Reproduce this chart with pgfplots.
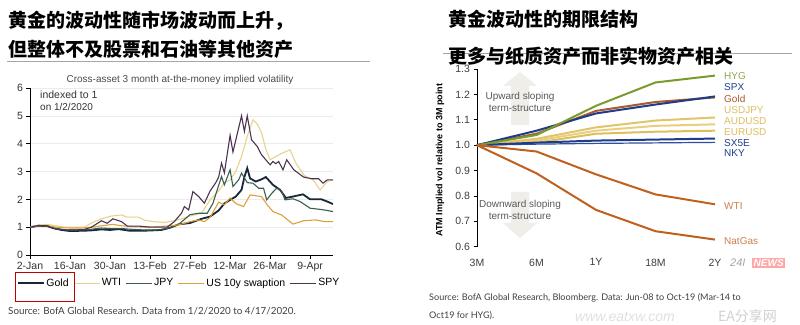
\documentclass[border=0pt]{standalone}
\usepackage{fontspec}
\setmainfont{Liberation Sans}
\newfontfamily\cjk{Noto Sans CJK SC}
\newfontfamily\srcfont{Lato}
\usepackage{pgfplots}
\pgfplotsset{compat=1.18}
\definecolor{cGold}{HTML}{17263A}
\definecolor{cWTI}{HTML}{E6D48A}
\definecolor{cJPY}{HTML}{3D5F4F}
\definecolor{cSwap}{HTML}{DBA33A}
\definecolor{cSPY}{HTML}{4D3350}
\definecolor{rHYG}{HTML}{7A9A2E}
\definecolor{rNavy}{HTML}{1F3C88}
\definecolor{rNKY}{HTML}{2E4FA0}
\definecolor{rGold}{HTML}{A65A2E}
\definecolor{rY1}{HTML}{E2C56A}
\definecolor{rY2}{HTML}{E8CF7E}
\definecolor{rY3}{HTML}{DDBF5E}
\definecolor{rOil}{HTML}{C0601E}
\definecolor{rArrow}{HTML}{EFEEE8}
\begin{document}
\begin{tikzpicture}
\fill[white] (0pt,0pt) rectangle (800pt,324pt);
% ---------- titles ----------
\node[anchor=west,inner sep=0pt] at (8pt,303pt) {\cjk\bfseries\fontsize{19}{21}\selectfont 黄金的波动性随市场波动而上升，};
\node[anchor=west,inner sep=0pt] at (8pt,274.5pt) {\cjk\bfseries\fontsize{19}{21}\selectfont 但整体不及股票和石油等其他资产};
\draw[gray!70,line width=0.8pt] (7pt,263pt) -- (370pt,263pt);
\node[anchor=west,inner sep=0pt] at (448pt,305pt) {\cjk\bfseries\fontsize{19}{21}\selectfont 黄金波动性的期限结构};
\draw[gray!70,line width=0.8pt] (443pt,270.7pt) -- (792pt,270.7pt);
\node[anchor=west,inner sep=0pt] at (448pt,268pt) {\cjk\bfseries\fontsize{19}{21}\selectfont 更多与纸质资产而非实物资产相关};
% ---------- left chart ----------
\node[text=black!70,inner sep=0pt] at (180pt,244pt) {\fontsize{10}{12}\selectfont Cross-asset 3 month at-the-money implied volatility};
\node[anchor=north west,align=left,inner sep=0pt,text=black!80] at (40pt,233pt) {\fontsize{10.5}{12.5}\selectfont indexed to 1\\on 1/2/2020};
\begin{axis}[
  at={(30pt,69pt)}, anchor=south west,
  scale only axis, width=303pt, height=167pt,
  xmin=0, xmax=106, ymin=0, ymax=6,
  axis lines*=left, axis line style={black, line width=0.6pt, -},
  xtick={0,14,28,42,56,70,84,98},
  xticklabels={2-Jan,16-Jan,30-Jan,13-Feb,27-Feb,12-Mar,26-Mar,9-Apr},
  ytick={0,1,2,3,4,5,6},
  tick align=outside, major tick length=3.5pt,
  tick style={black, line width=0.6pt},
  ymajorgrids, grid style={black!8, line width=0.4pt},
  tick label style={font=\fontsize{10.5}{12}\selectfont, text=black!80},
  /pgf/number format/assume math mode=true,
  legend columns=5,
  legend style={at={(-0.043,-0.168)}, anchor=west, draw=none, fill=none,
    font=\fontsize{10.5}{12}\selectfont, inner sep=0pt,
    nodes={inner sep=1.5pt},
    /tikz/every even column/.append style={column sep=3pt}},
  legend image code/.code={\draw[#1] (0pt,0pt) -- (26pt,0pt);},
]
\addplot[cGold, line width=1.8pt] coordinates {(0,1.0)(3,1.05)(6,1.04)(8,0.97)(11,0.9)(14,0.86)(18,0.87)(21,0.88)(25,0.92)(28,0.9)(31,0.93)(35,0.87)(39,0.87)(42,0.88)(46,0.9)(49,0.98)(52,1.1)(56,1.15)(60,1.3)(63,1.38)(66,1.6)(68,1.85)(70,1.98)(72,2.1)(74,2.34)(75,2.8)(76,3.12)(77,2.75)(79,2.64)(81,2.72)(82.5,2.8)(85,2.52)(87.5,2.34)(89.5,2.05)(92,2.1)(95.5,2.18)(98,2.0)(102,2.0)(104,1.92)(106,1.83)};
\addlegendentry{Gold}
\addplot[cWTI, line width=1.1pt] coordinates {(0,1.0)(3,1.08)(6,1.1)(9,1.05)(12,1.0)(16,1.0)(19,1.0)(21.5,1.15)(25,1.3)(28.5,1.4)(32,1.44)(34,1.36)(38,1.36)(40,1.25)(43,1.2)(47,1.17)(50,1.22)(53,1.3)(56,1.4)(60,1.5)(63,1.98)(66,2.3)(68,2.6)(70,2.7)(72,3.0)(74,3.54)(76,4.26)(78,4.86)(79.5,4.7)(81,4.4)(82.5,3.8)(84,3.42)(86,3.54)(88,3.65)(91,3.78)(93,3.3)(96,2.85)(99,2.7)(101.5,2.34)(104,2.64)(106,2.7)};
\addlegendentry{WTI}
\addplot[cJPY, line width=1.1pt] coordinates {(0,1.0)(3,1.04)(6,1.05)(9,0.95)(13,0.9)(17,0.9)(21,0.92)(25,0.97)(28,0.95)(32,0.95)(36,0.92)(40,0.9)(44,0.9)(48,0.95)(52,1.1)(56,1.45)(59,1.5)(62,1.5)(64,1.86)(66,2.5)(67,2.82)(68,2.52)(70,3.06)(71,2.46)(73,2.7)(74,2.94)(76,2.6)(78,2.58)(80,2.4)(81.7,2.4)(82.8,1.98)(84.6,2.22)(86.3,2.4)(88,2.3)(89.2,1.98)(92,2.02)(94.5,1.92)(98,1.68)(101.5,1.64)(104,1.6)(106,1.56)};
\addlegendentry{JPY}
\addplot[cSwap, line width=1.1pt] coordinates {(0,1.0)(3,1.06)(6,1.05)(9,1.0)(14,0.97)(18,0.97)(22,1.0)(25,1.05)(29,1.1)(32,1.05)(36,1.02)(40,1.0)(45,1.02)(49,1.05)(52,1.08)(56,1.2)(59,1.26)(61,1.2)(63,1.35)(66,1.9)(68,1.8)(70,2.05)(72,1.85)(74.7,1.74)(77,2.16)(81,2.1)(83,1.8)(85,1.56)(88,1.44)(92,1.11)(95.7,1.23)(100,1.26)(103,1.2)(106,1.2)};
\addlegendentry{US 10y swaption}
\addplot[cSPY, line width=1.1pt] coordinates {(0,1.0)(3,1.06)(6,1.05)(9,0.93)(13,0.9)(16,0.9)(19,0.92)(21.5,1.0)(25,1.23)(27,1.14)(29,1.3)(32,1.2)(34,1.04)(38,1.04)(42,1.0)(48,1.0)(50.5,1.2)(53,1.5)(54,1.74)(55.5,1.62)(57,2.28)(59,2.1)(61,1.86)(63,2.3)(65,2.6)(66,2.8)(67,3.3)(68,2.95)(70,4.3)(71,3.7)(74,5.0)(75,4.44)(76,5.0)(77.5,4.14)(79.5,3.9)(81,3.6)(82.5,3.42)(84,3.24)(85,3.36)(86,3.28)(87,3.36)(88.5,3.06)(89.8,3.42)(92.3,3.06)(95.7,2.8)(98.6,2.74)(101,2.74)(102.5,2.58)(104,2.7)(106,2.7)};
\addlegendentry{SPY}
\end{axis}
\draw[red!75!black, line width=0.8pt] (15pt,23pt) rectangle (74pt,52pt);
\node[anchor=base west,inner sep=0pt,text=black!75] at (8pt,9.5pt) {\srcfont\fontsize{9.8}{11}\selectfont Source: BofA Global Research. Data from 1/2/2020 to 4/17/2020.};
% ---------- right chart ----------
\fill[rArrow] (520pt,252pt) -- (537pt,238pt) -- (529pt,238pt) -- (529pt,199pt) -- (511pt,199pt) -- (511pt,238pt) -- (503pt,238pt) -- cycle;
\fill[rArrow] (520pt,86pt) -- (537pt,101pt) -- (529pt,101pt) -- (529pt,132pt) -- (511pt,132pt) -- (511pt,101pt) -- (503pt,101pt) -- cycle;
\node[text=black!65,align=center,inner sep=0pt] at (520pt,222.5pt) {\fontsize{10}{13}\selectfont Upward sloping\\term-structure};
\node[text=black!65,align=center,inner sep=0pt] at (520pt,114pt) {\fontsize{10}{13}\selectfont Downward sloping\\term-structure};
\node[rotate=90,inner sep=0pt] at (440pt,164pt) {\bfseries\fontsize{9}{11}\selectfont ATM Implied vol relative to 3M point};
\begin{axis}[
  at={(477pt,77.3pt)}, anchor=south west,
  scale only axis, width=238pt, height=177.7pt,
  xmin=0, xmax=4, ymin=0.6, ymax=1.3,
  axis y line*=left, axis x line*=bottom,
  x axis line style={draw=none},
  y axis line style={black, line width=0.8pt, -},
  xtick={0,1,2,3,4}, xticklabels={3M,6M,1Y,18M,2Y},
  x tick style={draw=none},
  ytick={0.6,0.7,0.8,0.9,1.0,1.1,1.2,1.3},
  yticklabel style={/pgf/number format/.cd, fixed, fixed zerofill, precision=1},
  xticklabel style={yshift=-5pt},
  y tick style={black, line width=0.8pt},
  tick align=outside, major tick length=3.5pt,
  tick label style={font=\fontsize{10.5}{12}\selectfont, text=black!75},
  /pgf/number format/assume math mode=true,
  clip=false,
]
\addplot[rY3, line width=2pt] coordinates {(0,1)(1,1.01)(2,1.045)(3,1.053)(4,1.057)};
\addplot[rY2, line width=2pt] coordinates {(0,1)(1,1.018)(2,1.057)(3,1.076)(4,1.082)};
\addplot[rY1, line width=2pt] coordinates {(0,1)(1,1.025)(2,1.07)(3,1.097)(4,1.109)};
\addplot[rNKY, line width=1.2pt] coordinates {(0,1)(1,1.004)(2,1.007)(3,1.009)(4,1.011)};
\addplot[rNavy, line width=2pt] coordinates {(0,1)(1,1.01)(2,1.018)(3,1.022)(4,1.026)};
\addplot[rGold, line width=2pt] coordinates {(0,1)(1,1.045)(2,1.135)(3,1.17)(4,1.188)};
\addplot[rNavy, line width=2pt] coordinates {(0,1)(1,1.057)(2,1.125)(3,1.16)(4,1.192)};
\addplot[rHYG, line width=2pt] coordinates {(0,1)(1,1.04)(2,1.155)(3,1.247)(4,1.274)};
\addplot[rOil, line width=2pt] coordinates {(0,1)(1,0.975)(2,0.885)(3,0.806)(4,0.767)};
\addplot[rOil, line width=2pt] coordinates {(0,1)(1,0.889)(2,0.745)(3,0.661)(4,0.628)};
\begin{scope}[every node/.style={anchor=west, xshift=8pt, inner sep=1pt, font=\fontsize{10}{12}\selectfont}]
\node[text=rHYG!85] at (axis cs:4,1.274) {HYG};
\node[text=rNavy] at (axis cs:4,1.228) {SPX};
\node[text=rGold] at (axis cs:4,1.184) {Gold};
\node[text=rY3] at (axis cs:4,1.139) {USDJPY};
\node[text=rY3] at (axis cs:4,1.096) {AUDUSD};
\node[text=rY3] at (axis cs:4,1.052) {EURUSD};
\node[text=rNavy] at (axis cs:4,1.008) {SX5E};
\node[text=rNavy] at (axis cs:4,0.967) {NKY};
\node[text=rOil!80] at (axis cs:4,0.762) {WTI};
\node[text=rOil!80] at (axis cs:4,0.624) {NatGas};
\end{scope}
\end{axis}
\node[anchor=base west,inner sep=0pt,text=black!75,align=left] at (429pt,23.5pt) {\srcfont\fontsize{9.1}{11}\selectfont Source: BofA Global Research, Bloomberg. Data: Jun-08 to Oct-19 (Mar-14 to};
\node[anchor=base west,inner sep=0pt,text=black!75] at (429pt,5.5pt) {\srcfont\fontsize{9.1}{11}\selectfont Oct19 for HYG).};
% ---------- watermark marks ----------
\node[anchor=base west,inner sep=0pt,text=black!35] at (730pt,58pt) {\itshape\fontsize{11}{12}\selectfont 24I};
\node[anchor=base west,inner sep=1.5pt,fill=red!35,text=white] at (752pt,57.5pt) {\bfseries\itshape\fontsize{10}{11}\selectfont NEWS};
\node[anchor=base west,inner sep=0pt,text=black!12] at (575pt,3pt) {\itshape\fontsize{14}{16}\selectfont www.eatxw.com};
\node[anchor=base west,inner sep=0pt,text=black!18] at (718pt,3pt) {\cjk\fontsize{14}{16}\selectfont EA分享网};
\pgfresetboundingbox
\useasboundingbox (0pt,0pt) rectangle (800pt,324pt);
\end{tikzpicture}
\end{document}
